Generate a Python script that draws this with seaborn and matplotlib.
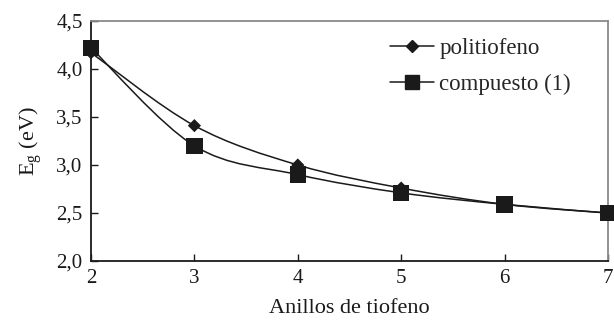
import numpy as np
import matplotlib
matplotlib.use("Agg")
import matplotlib.pyplot as plt
from matplotlib.path import Path
from matplotlib.patches import PathPatch
from matplotlib.lines import Line2D
import seaborn as sns

anillos = [2, 3, 4, 5, 6, 7]
politiofeno = [4.17, 3.41, 3.00, 2.76, 2.59, 2.50]
compuesto = [4.22, 3.20, 2.90, 2.71, 2.59, 2.50]
series_names = ["politiofeno", "compuesto (1)"]
yticks = [2.0, 2.5, 3.0, 3.5, 4.0, 4.5]
ytick_labels = ["2,0", "2,5", "3,0", "3,5", "4,0", "4,5"]

sns.set_theme(style="white")
plt.rcParams["font.family"] = ["Liberation Serif", "DejaVu Serif"]
plt.rcParams["mathtext.fontset"] = "custom"
plt.rcParams["mathtext.rm"] = "Liberation Serif"

INK = "#1a1a1a"

fig = plt.figure(figsize=(6.14, 3.21), dpi=100)
ax = fig.add_axes([91/614, 1-261/321, (608-91)/614, (261-21)/321])


def smooth_path(xs, ys, tension=0.5):
    # Excel-like smoothed line: Catmull-Rom converted to cubic Bezier
    xs = np.asarray(xs, float); ys = np.asarray(ys, float)
    n = len(xs)
    verts = [(xs[0], ys[0])]
    codes = [Path.MOVETO]
    for i in range(n - 1):
        p0 = np.array([xs[max(i-1, 0)], ys[max(i-1, 0)]])
        p1 = np.array([xs[i], ys[i]])
        p2 = np.array([xs[i+1], ys[i+1]])
        p3 = np.array([xs[min(i+2, n-1)], ys[min(i+2, n-1)]])
        c1 = p1 + (p2 - p0) * tension / 3
        c2 = p2 - (p3 - p1) * tension / 3
        verts += [tuple(c1), tuple(c2), tuple(p2)]
        codes += [Path.CURVE4] * 3
    return Path(verts, codes)


for vals in (politiofeno, compuesto):
    ax.add_patch(PathPatch(smooth_path(anillos, vals), fill=False,
                           edgecolor=INK, lw=1.1, zorder=2))
sns.scatterplot(x=anillos, y=politiofeno, marker="D", s=45, color=INK,
                edgecolor="none", ax=ax, zorder=3, clip_on=False)
sns.scatterplot(x=anillos, y=compuesto, marker="s", s=140, color=INK,
                edgecolor="none", ax=ax, zorder=3, clip_on=False)

ax.set_xlim(2, 7)
ax.set_ylim(2.0, 4.5)
ax.set_xticks(anillos)
ax.set_xticklabels([str(a) for a in anillos], fontsize=15)
ax.set_yticks(yticks)
ax.set_yticklabels(ytick_labels, fontsize=15)
ax.tick_params(axis="both", direction="in", length=5, width=1, color=INK,
               labelcolor=INK, left=True, bottom=True, pad=6)
for side in ("left", "bottom"):
    ax.spines[side].set_color(INK)
    ax.spines[side].set_linewidth(1.3)
for side in ("top", "right"):
    ax.spines[side].set_color("#8a8a8a")
    ax.spines[side].set_linewidth(1.3)

ax.set_xlabel("Anillos de tiofeno", fontsize=16, color=INK, labelpad=8)
ax.set_ylabel(r"E$_{\mathrm{g}}$ (eV)", fontsize=16, color=INK, labelpad=8)

handles = [
    Line2D([], [], color=INK, lw=1.1, marker="D", markersize=6.5),
    Line2D([], [], color=INK, lw=1.1, marker="s", markersize=10),
]
ax.legend(handles, series_names, loc="upper right", bbox_to_anchor=(0.955, 0.985),
          frameon=False, fontsize=16.5, handlelength=1.9, handletextpad=0.25,
          labelspacing=0.62, borderaxespad=0.2)

fig.savefig("out.png", dpi=100)
